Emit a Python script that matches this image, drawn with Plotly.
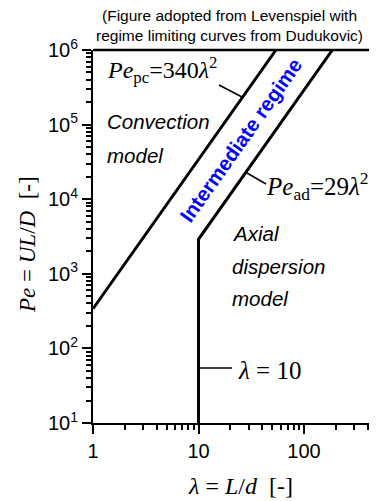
import plotly.graph_objects as go

# ---- data ----
pc_lambda = [1, 54.23]          # Pe_pc = 340 λ²
pc_pe = [340, 1000000]
ad_lambda = [10, 10, 185.7]     # λ = 10 then Pe_ad = 29 λ²
ad_pe = [10, 2900, 1000000]

y_tickvals = [10, 100, 1000, 10000, 100000, 1000000]
y_ticktext = ["10<sup>1</sup>", "10<sup>2</sup>", "10<sup>3</sup>",
              "10<sup>4</sup>", "10<sup>5</sup>", "10<sup>6</sup>"]
x_tickvals = [1, 10, 100]
x_ticktext = ["1", "10", "100"]

# page body has an 8px margin; lay out in page pixels and compensate
OFF = 8
PAGE_W, PAGE_H = 377, 501
W, H = PAGE_W - OFF, PAGE_H - OFF
PL, PR, PT, PB = 93, 377, 50, 423      # plot area in page pixels
L, T = PL - OFF, PT - OFF
R = W - (PR - OFF)
B = H - (PB - OFF)
PW, PH = PR - PL, PB - PT


def px(x):
    return (x - PL) / PW


def py(y):
    return (PB - y) / PH


minor_x = [k * 10 ** e for e in range(0, 3) for k in range(2, 10)]
minor_y = [k * 10 ** e for e in range(1, 6) for k in range(2, 10)]

fig = go.Figure()
fig.add_trace(go.Scatter(x=pc_lambda, y=pc_pe, mode="lines",
                         line=dict(color="black", width=3), showlegend=False))
fig.add_trace(go.Scatter(x=ad_lambda, y=ad_pe, mode="lines",
                         line=dict(color="black", width=3), showlegend=False))

serif = "Liberation Serif"
sans = "Liberation Sans"

ann = []
ann.append(dict(x=px(229), y=py(26), text="(Figure adopted from Levenspiel with<br>regime limiting curves from Dudukovic)",
                font=dict(family=sans, size=15.5, color="black"), xanchor="center", yanchor="middle"))
ann.append(dict(x=px(105), y=py(70), text="<i>Pe</i><sub>pc</sub>=340<i>λ</i><sup>2</sup>",
                font=dict(family=serif, size=24, color="black"), xanchor="left", yanchor="middle"))
ann.append(dict(x=px(105), y=py(121), text="<i>Convection</i>",
                font=dict(family=sans, size=20.5, color="black"), xanchor="left", yanchor="middle"))
ann.append(dict(x=px(105), y=py(155), text="<i>model</i>",
                font=dict(family=sans, size=20.5, color="black"), xanchor="left", yanchor="middle"))
ann.append(dict(x=px(240), y=py(140), text="<b>Intermediate regime</b>", textangle=-54.7,
                font=dict(family=sans, size=20.5, color="#0000ff"), xanchor="center", yanchor="middle"))
ann.append(dict(x=px(264), y=py(186), text="<i>Pe</i><sub>ad</sub>=29<i>λ</i><sup>2</sup>",
                font=dict(family=serif, size=25, color="black"), xanchor="left", yanchor="middle"))
for t, yy in [("Axial", 233), ("dispersion", 266), ("model", 298)]:
    ann.append(dict(x=px(230), y=py(yy), text="<i>%s</i>" % t,
                    font=dict(family=sans, size=20.5, color="black"), xanchor="left", yanchor="middle"))
ann.append(dict(x=px(236), y=py(370), text="<i>λ</i> = 10",
                font=dict(family=serif, size=25, color="black"), xanchor="left", yanchor="middle"))
ann.append(dict(x=px(27), y=py(245), text="<i>Pe</i> = <i>UL</i>/<i>D</i>  [-]", textangle=-90,
                font=dict(family=serif, size=23, color="black"), xanchor="center", yanchor="middle"))
ann.append(dict(x=px(240), y=py(486), text="<i>λ</i> = <i>L</i>/<i>d</i>  [-]",
                font=dict(family=serif, size=24, color="black"), xanchor="center", yanchor="middle"))
for a in ann:
    a.update(xref="paper", yref="paper", showarrow=False)

shapes = []
for (x0, y0, x1, y1) in [(219, 85, 242, 97), (247, 173, 266, 184), (200, 368, 232, 368)]:
    shapes.append(dict(type="line", xref="paper", yref="paper",
                       x0=px(x0), y0=py(y0), x1=px(x1), y1=py(y1),
                       line=dict(color="black", width=1.5)))
# top frame line
shapes.append(dict(type="line", xref="paper", yref="paper", x0=0, y0=1, x1=1, y1=1,
                   line=dict(color="black", width=2.5)))

fig.update_layout(
    width=W, height=H, margin=dict(l=L, r=R, t=T, b=B, pad=0),
    paper_bgcolor="white", plot_bgcolor="white",
    annotations=ann, shapes=shapes, showlegend=False,
    xaxis=dict(type="log", range=[0, 2.692], showgrid=False, zeroline=False,
               showline=True, linecolor="black", linewidth=2,
               ticks="outside", ticklen=9, tickwidth=2, tickcolor="black",
               tickmode="array", tickvals=x_tickvals, ticktext=x_ticktext,
               tickfont=dict(family=sans, size=20, color="black"),
               minor=dict(tickmode="array", tickvals=minor_x, ticks="outside",
                          ticklen=5, tickwidth=1.5, tickcolor="black", showgrid=False)),
    yaxis=dict(type="log", range=[1, 6], showgrid=False, zeroline=False,
               showline=True, linecolor="black", linewidth=2,
               ticks="outside", ticklen=9, tickwidth=2, tickcolor="black",
               tickmode="array", tickvals=y_tickvals, ticktext=y_ticktext,
               tickfont=dict(family=sans, size=20, color="black"),
               minor=dict(tickmode="array", tickvals=minor_y, ticks="outside",
                          ticklen=5, tickwidth=1.5, tickcolor="black", showgrid=False)),
)

fig.write_html("out.html")
